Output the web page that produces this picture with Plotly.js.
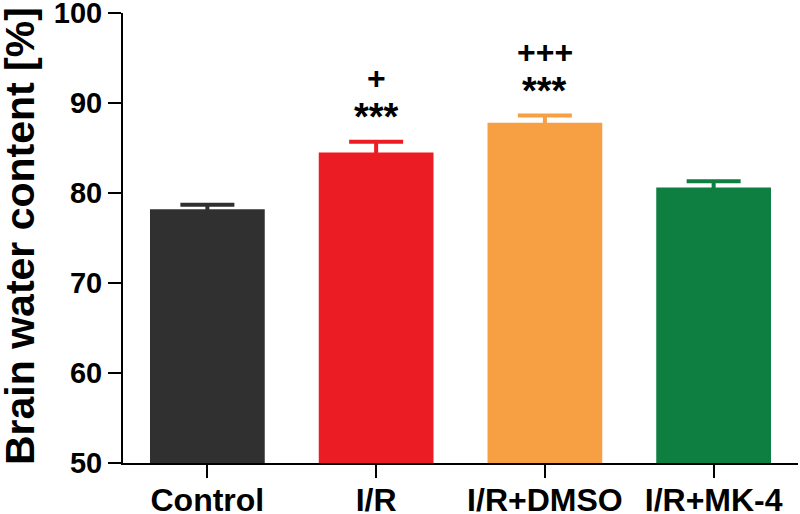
<!DOCTYPE html>
<html>
<head>
<meta charset="utf-8">
<script src="https://cdn.plot.ly/plotly-3.0.1.min.js"></script>
<style>html,body{margin:0;padding:0;background:#fff;}#chart{width:800px;height:514px;}</style>
</head>
<body>
<div id="chart"></div>
<script>
const categories = ['Control', 'I/R', 'I/R+DMSO', 'I/R+MK-4'];
const means = [78.2, 84.5, 87.8, 80.6];
const errors = [0.5, 1.2, 0.8, 0.7];
const colors = ['#303030', '#ec1c24', '#f7a043', '#0e7f41'];
const starLabels = ['', '***', '***', ''];
const plusLabels = ['', '+', '+++', ''];
const yTitle = 'Brain water content [%]';

const FONT = 'Liberation Sans, Arial, sans-serif';

const traces = categories.map((c, i) => ({
  type: 'bar',
  x: [c],
  y: [means[i]],
  marker: {color: colors[i], line: {width: 0}},
  error_y: {type: 'data', array: [errors[i]], visible: true, color: colors[i], thickness: 4, width: 27},
  showlegend: false,
  hoverinfo: 'none'
}));

const annotations = [];
categories.forEach((c, i) => {
  if (starLabels[i]) annotations.push({
    x: c, y: means[i] + errors[i], xref: 'x', yref: 'y',
    text: starLabels[i], showarrow: false, yanchor: 'middle', yshift: 25,
    font: {family: FONT, size: 38, color: '#000', weight: 'bold'}
  });
  if (plusLabels[i]) annotations.push({
    x: c, y: means[i] + errors[i], xref: 'x', yref: 'y',
    text: plusLabels[i], showarrow: false, yanchor: 'middle', yshift: 64,
    font: {family: FONT, size: 32, color: '#000', weight: 'bold'}
  });
});

annotations.push({
  x: 0, y: 0.5, xref: 'paper', yref: 'paper',
  xanchor: 'center', yanchor: 'middle', xshift: -103, yshift: 2,
  textangle: -90, showarrow: false, text: yTitle,
  font: {family: FONT, size: 41, color: '#000', weight: 'bold'}
});

const layout = {
  width: 800, height: 514,
  margin: {l: 123, r: 2, t: 13, b: 51},
  paper_bgcolor: '#fff', plot_bgcolor: '#fff',
  barmode: 'overlay',
  bargap: 0.32,
  showlegend: false,
  xaxis: {
    type: 'category',
    range: [-0.5, 3.5],
    showline: true, linecolor: '#000', linewidth: 2,
    ticks: 'outside', ticklen: 13, tickwidth: 2, tickcolor: '#000',
    showgrid: false, zeroline: false,
    ticklabeloverflow: 'allow',
    ticklabelstandoff: -5,
    tickfont: {family: FONT, size: 32, color: '#000', weight: 'bold'}
  },
  yaxis: {
    range: [50, 100], dtick: 10, tick0: 50,
    showline: true, linecolor: '#000', linewidth: 2,
    ticks: 'outside', ticklen: 13, tickwidth: 2, tickcolor: '#000',
    showgrid: false, zeroline: false,
    ticklabeloverflow: 'allow',
    tickfont: {family: FONT, size: 29, color: '#000', weight: 'bold'}
  },
  annotations: annotations
};

Plotly.newPlot('chart', traces, layout, {displayModeBar: false, staticPlot: true});
</script>
</body>
</html>
